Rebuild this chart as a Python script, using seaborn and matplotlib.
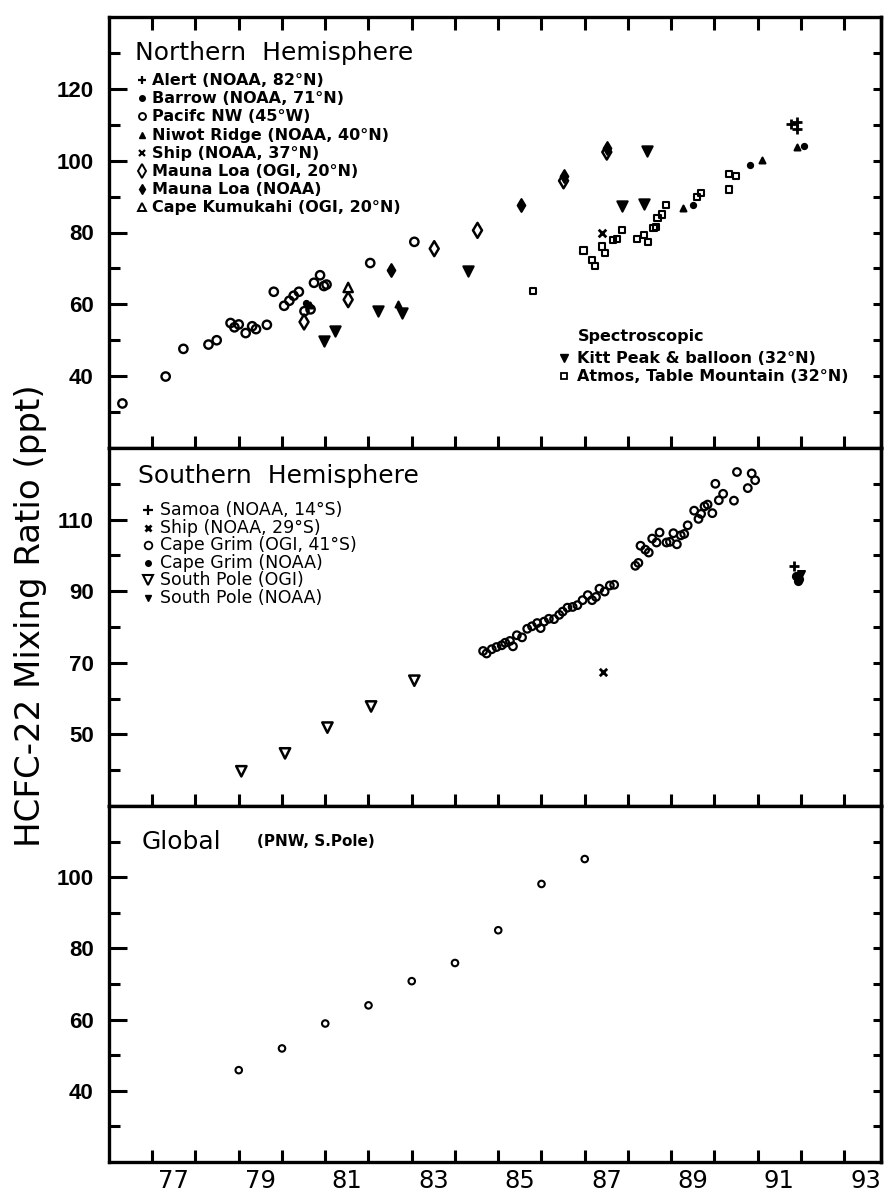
import matplotlib
matplotlib.use("Agg")
import matplotlib.pyplot as plt
import seaborn as sns
import numpy as np
from matplotlib.lines import Line2D
from matplotlib.ticker import FixedLocator

sns.set_style("ticks")
plt.rcParams["font.family"] = ["DejaVu Sans"]
plt.rcParams.update({"text.color": "black", "axes.edgecolor": "black",
                     "axes.labelcolor": "black", "xtick.color": "black",
                     "ytick.color": "black"})

# ---------------- Northern Hemisphere (year, ppt) ----------------
pnw_year = [75.81, 76.81, 77.22, 77.80, 77.99, 78.31, 78.40, 78.50, 78.66, 78.81,
            78.90, 79.15, 79.31, 79.55, 79.67, 79.77, 79.89, 80.02, 80.16, 80.24,
            80.38, 80.47, 80.53, 81.54, 82.56]
pnw_ppt = [32.4, 39.9, 47.6, 48.8, 50.0, 54.8, 53.6, 54.4, 52.0, 53.9,
           53.1, 54.3, 63.5, 59.6, 61.0, 62.4, 63.5, 58.1, 58.6, 66.0,
           68.1, 65.1, 65.5, 71.5, 77.4]

barrow_year = [80.05, 89.01, 90.33, 91.57]
barrow_ppt = [60.3, 87.6, 98.9, 104.1]

niwot_year = [80.15, 82.19, 88.77, 90.59, 91.40]
niwot_ppt = [59.8, 60.2, 86.7, 100.3, 103.7]

alert_year = [91.26, 91.41, 91.41]
alert_ppt = [110.3, 110.7, 108.8]

ship_n_year = [86.91]
ship_n_ppt = [79.8]

mlo_ogi_year = [80.01, 81.03, 83.02, 84.02, 86.01, 87.01]
mlo_ogi_ppt = [55.1, 61.3, 75.5, 80.6, 94.4, 102.4]

mlo_noaa_year = [82.01, 85.03, 86.01, 87.01]
mlo_noaa_ppt = [69.5, 87.6, 95.6, 103.6]

kumukahi_year = [81.03]
kumukahi_ppt = [64.7]

kitt_year = [80.47, 80.73, 81.72, 82.27, 83.81, 87.36, 87.88, 87.95]
kitt_ppt = [49.8, 52.6, 58.1, 57.7, 69.3, 87.3, 87.8, 102.8]

atmos_year = [85.31, 86.47, 86.66, 86.74, 86.90, 86.96, 87.15, 87.25, 87.37, 87.71,
              87.87, 87.96, 88.09, 88.15, 88.18, 88.28, 88.38, 89.09, 89.18, 89.83,
              89.84, 89.99]
atmos_ppt = [63.7, 75.0, 72.4, 70.7, 76.1, 74.2, 78.0, 78.1, 80.7, 78.3,
             79.4, 77.3, 81.3, 81.5, 84.1, 85.0, 87.6, 89.8, 90.9, 92.0,
             96.2, 95.7]

# ---------------- Southern Hemisphere ----------------
samoa_year = [91.33]
samoa_ppt = [96.9]

ship_s_year = [86.92]
ship_s_ppt = [67.3]

cg_ogi_year = [84.15, 84.23, 84.35, 84.46, 84.58, 84.66, 84.77, 84.84, 84.93, 85.05,
               85.17, 85.28, 85.40, 85.48, 85.56, 85.67, 85.79, 85.91, 85.99, 86.10,
               86.22, 86.33, 86.45, 86.57, 86.67, 86.76, 86.84, 86.96, 87.08, 87.18,
               87.67, 87.74, 87.79, 87.90, 87.98, 88.06, 88.16, 88.23, 88.39, 88.47,
               88.63, 88.55, 88.72, 88.80, 88.88, 89.03, 89.13, 89.19, 89.27, 89.34,
               89.45, 89.52, 89.60, 89.70, 89.95, 90.02, 90.27, 90.36, 90.44]
cg_ogi_ppt = [73.3, 72.6, 73.8, 74.4, 74.9, 75.6, 76.1, 74.6, 77.7, 77.1,
              79.5, 80.2, 81.1, 79.7, 81.5, 82.3, 82.2, 83.4, 84.3, 85.4,
              85.6, 86.1, 87.5, 88.9, 87.5, 88.4, 90.7, 89.9, 91.6, 91.8,
              97.1, 97.9, 102.7, 101.6, 100.8, 104.7, 103.6, 106.4, 103.6, 103.8,
              103.1, 106.2, 105.6, 106.0, 108.4, 112.5, 110.2, 111.6, 113.7, 114.2,
              111.8, 120.0, 115.4, 117.2, 115.3, 123.3, 118.8, 122.9, 121.0]

cg_noaa_year = [91.38, 91.42, 91.46]
cg_noaa_ppt = [94.3, 92.9, 93.3]

spo_ogi_year = [78.56, 79.57, 80.55, 81.56, 82.56]
spo_ogi_ppt = [39.7, 44.7, 51.9, 57.8, 65.0]

spo_noaa_year = [91.50]
spo_noaa_ppt = [94.9]

# ---------------- Global (PNW, S.Pole) ----------------
global_year = [78.5, 79.5, 80.5, 81.5, 82.5, 83.5, 84.5, 85.5, 86.5]
global_ppt = [45.8, 51.9, 58.9, 64.0, 70.8, 75.9, 85.1, 98.1, 105.1]

# ---------------- axis labelling ----------------
year_labels = [77, 79, 81, 83, 85, 87, 89, 91, 93]
nh_yticks = [40, 60, 80, 100, 120]
sh_yticks = [50, 70, 90, 110]
gl_yticks = [40, 60, 80, 100]

W, H = 885, 1199
fig = plt.figure(figsize=(W / 100, H / 100), dpi=100)


def rect(x0, y0, x1, y1):
    return [x0 / W, 1 - y1 / H, (x1 - x0) / W, (y1 - y0) / H]


LEFT, RIGHT = 109, 881
ax_n = fig.add_axes(rect(LEFT, 17, RIGHT, 448))
ax_s = fig.add_axes(rect(LEFT, 448, RIGHT, 806))
ax_g = fig.add_axes(rect(LEFT, 806, RIGHT, 1162))

YFONT = dict(fontsize=16, fontweight="bold", fontfamily="Liberation Sans")


def frame(ax, ylim, majors, top_ticks=False, xlabels=False):
    ax.set_xlim(75.5, 93.35)
    ax.set_ylim(*ylim)
    ax.xaxis.set_minor_locator(FixedLocator(np.arange(76.5, 93.0, 1.0)))
    if xlabels:
        ax.set_xticks(year_labels, labels=[str(v) for v in year_labels], fontsize=17.5)
    else:
        ax.set_xticks(year_labels, labels=[""] * len(year_labels))
    ax.set_yticks(majors, labels=[str(v) for v in majors], **YFONT)
    every10 = list(range(int(ylim[0]) // 10 * 10 + 10, int(ylim[1]), 10))
    ax.yaxis.set_minor_locator(FixedLocator([v for v in every10 if v not in majors]))
    ax.tick_params(axis="x", which="major", length=0, pad=5)
    ax.tick_params(axis="x", which="minor", direction="in", length=9, width=2.2,
                   bottom=True, top=top_ticks)
    ax.tick_params(axis="y", which="major", direction="in", length=13, width=2.2,
                   left=True, right=False, pad=11)
    ax.tick_params(axis="y", which="minor", direction="in", length=8, width=2.2,
                   left=True, right=False)
    sec = ax.secondary_yaxis("right")
    sec.set_yticks(every10)
    sec.tick_params(direction="in", length=6, width=2.2, labelright=False)
    sec.spines["right"].set_linewidth(2.4)
    for sp in ax.spines.values():
        sp.set_linewidth(2.4)
    ax.set_xlabel("")
    ax.set_ylabel("")


def pts(ax, x, y, marker, s, filled=False, lw=1.5):
    if marker in ("+", "x"):
        sns.scatterplot(x=x, y=y, ax=ax, marker=marker, s=s, color="black",
                        linewidth=lw, legend=False, zorder=3)
    elif filled:
        sns.scatterplot(x=x, y=y, ax=ax, marker=marker, s=s, facecolor="black",
                        edgecolor="black", linewidth=lw, legend=False, zorder=3)
    else:
        sns.scatterplot(x=x, y=y, ax=ax, marker=marker, s=s, facecolor="none",
                        edgecolor="black", linewidth=lw, legend=False, zorder=3)


# Northern Hemisphere panel
pts(ax_n, pnw_year, pnw_ppt, "o", 36, lw=1.7)
pts(ax_n, barrow_year, barrow_ppt, "o", 14, filled=True)
pts(ax_n, niwot_year, niwot_ppt, "^", 18, filled=True)
pts(ax_n, alert_year, alert_ppt, "+", 55, lw=2.0)
pts(ax_n, ship_n_year, ship_n_ppt, "x", 30, lw=2.0)
pts(ax_n, mlo_ogi_year, mlo_ogi_ppt, "d", 58, lw=1.8)
pts(ax_n, mlo_noaa_year, mlo_noaa_ppt, "d", 42, filled=True)
pts(ax_n, kumukahi_year, kumukahi_ppt, "^", 45, lw=1.7)
pts(ax_n, kitt_year, kitt_ppt, "v", 55, filled=True)
pts(ax_n, atmos_year, atmos_ppt, "s", 20, lw=1.5)
frame(ax_n, (20, 140), nh_yticks, top_ticks=True)

# Southern Hemisphere panel
pts(ax_s, cg_ogi_year, cg_ogi_ppt, "o", 30, lw=1.6)
pts(ax_s, cg_noaa_year, cg_noaa_ppt, "o", 26, filled=True)
pts(ax_s, samoa_year, samoa_ppt, "+", 60, lw=2.0)
pts(ax_s, ship_s_year, ship_s_ppt, "x", 28, lw=2.0)
pts(ax_s, spo_ogi_year, spo_ogi_ppt, "v", 55, lw=1.8)
pts(ax_s, spo_noaa_year, spo_noaa_ppt, "v", 25, filled=True)
frame(ax_s, (30, 130), sh_yticks)

# Global panel
pts(ax_g, global_year, global_ppt, "o", 22, lw=1.5)
frame(ax_g, (20, 120), gl_yticks, xlabels=True)


# ---------------- annotations ----------------
def ftext(px, py, s, **kw):
    kw.setdefault("va", "baseline")
    kw.setdefault("ha", "left")
    fig.text(px / W, 1 - py / H, s, **kw)


def fkey(px, py, marker, ms, filled=False, mew=1.3):
    fig.add_artist(Line2D([px / W], [1 - py / H], transform=fig.transFigure,
                          marker=marker, markersize=ms, linestyle="none",
                          mfc="black" if filled else "none", mec="black", mew=mew))


ftext(135, 60, "Northern  Hemisphere", fontsize=18)
nh_keys = [("+", 6, False, 1.6, "Alert (NOAA, 82°N)"),
           ("o", 4, True, 1.0, "Barrow (NOAA, 71°N)"),
           ("o", 5, False, 1.4, "Pacifc NW (45°W)"),
           ("^", 4, True, 1.0, "Niwot Ridge (NOAA, 40°N)"),
           ("x", 4.5, False, 1.6, "Ship (NOAA, 37°N)"),
           ("d", 7, False, 1.4, "Mauna Loa (OGI, 20°N)"),
           ("d", 5, True, 1.0, "Mauna Loa (NOAA)"),
           ("^", 6, False, 1.4, "Cape Kumukahi (OGI, 20°N)")]
for i, (m, ms, f, mew, lab) in enumerate(nh_keys):
    base = 85 + 18.2 * i
    fkey(142, base - 5, m, ms, f, mew)
    ftext(152, base, lab, fontsize=11.5, fontweight="bold")

ftext(578, 341, "Spectroscopic", fontsize=11.5, fontweight="bold")
fkey(564, 358, "v", 6, True, 1.0)
ftext(577, 363, "Kitt Peak & balloon (32°N)", fontsize=11.5, fontweight="bold")
fkey(564, 376, "s", 4.5, False, 1.3)
ftext(577, 381, "Atmos, Table Mountain (32°N)", fontsize=11.5, fontweight="bold")

ftext(138, 483, "Southern  Hemisphere", fontsize=18)
sh_keys = [("+", 6.5, False, 1.6, "Samoa (NOAA, 14°S)"),
           ("x", 5, False, 2.0, "Ship (NOAA, 29°S)"),
           ("o", 5.5, False, 1.3, "Cape Grim (OGI, 41°S)"),
           ("o", 4, True, 1.0, "Cape Grim (NOAA)"),
           ("v", 6.5, False, 1.5, "South Pole (OGI)"),
           ("v", 4, True, 1.0, "South Pole (NOAA)")]
for i, (m, ms, f, mew, lab) in enumerate(sh_keys):
    base = 515 + 17.6 * i
    fkey(148, base - 5, m, ms, f, mew)
    ftext(160, base, lab, fontsize=12.5)

ftext(142, 849, "Global", fontsize=18)
ftext(257, 846, "(PNW, S.Pole)", fontsize=11, fontweight="bold")

fig.text(31 / W, 1 - 616 / H, "HCFC-22 Mixing Ratio (ppt)", rotation=90,
         fontsize=24.5, ha="center", va="center")

fig.savefig("out.png", dpi=100)
